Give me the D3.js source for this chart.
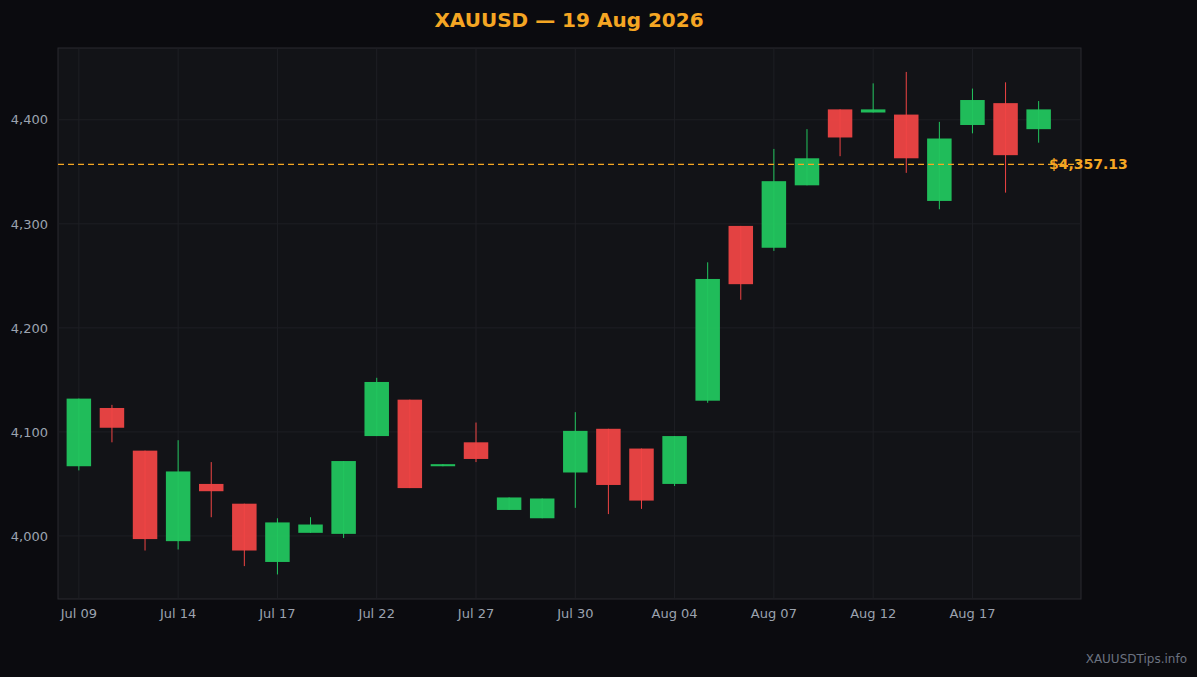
<!DOCTYPE html>
<head>
<meta charset="utf-8">
<title>XAUUSD</title>
<script src="https://cdn.jsdelivr.net/npm/d3@7"></script>
<style>
  body { margin: 0; background: #0b0b0f; }
  text { font-family: "DejaVu Sans", sans-serif; }
</style>
</head>
<body>
<script>
var width = 1197, height = 677;
var margin = {top: 48, right: 116, bottom: 78, left: 58};

// data
var dates = ["Jul 09","Jul 10","Jul 13","Jul 14","Jul 15","Jul 16","Jul 17","Jul 20","Jul 21","Jul 22",
  "Jul 23","Jul 24","Jul 27","Jul 28","Jul 29","Jul 30","Jul 31","Aug 03","Aug 04","Aug 05",
  "Aug 06","Aug 07","Aug 10","Aug 11","Aug 12","Aug 13","Aug 14","Aug 17","Aug 18","Aug 19"];
var opens  = [4067,4123,4082,3995,4050,4031,3975,4003,4002,4096,4131,4067,4090,4025,4017,4061,4103,4084,4050,4130,4298,4277,4337,4410,4407,4405,4322,4395,4416,4391];
var closes = [4132,4104,3997,4062,4043,3986,4013,4011,4072,4148,4046,4069,4074,4037,4036,4101,4049,4034,4096,4247,4242,4341,4363,4383,4410,4363,4382,4419,4366,4410];
var highs  = [4132,4126,4082,4092,4071,4031,4017,4018,4072,4152,4131,4069,4109,4037,4036,4119,4103,4084,4096,4263,4298,4372,4391,4410,4435,4446,4398,4430,4436,4418];
var lows   = [4063,4090,3986,3987,4018,3971,3963,4003,3998,4096,4046,4067,4071,4025,4017,4027,4021,4026,4048,4128,4227,4274,4337,4365,4407,4349,4314,4387,4330,4378];
var tickDates = ["Jul 09","Jul 14","Jul 17","Jul 22","Jul 27","Jul 30","Aug 04","Aug 07","Aug 12","Aug 17"];
var yTicks = [4000, 4100, 4200, 4300, 4400];
var lastPrice = 4357.13;

var data = dates.map(function(d, i) {
  return {date: d, o: opens[i], c: closes[i], h: highs[i], l: lows[i]};
});

var svg = d3.select("body").append("svg").attr("width", width).attr("height", height);
var pw = width - margin.left - margin.right, ph = height - margin.top - margin.bottom;

var x = d3.scaleBand().domain(dates).range([0, 1001.5]).padding(0.26);
var y = d3.scaleLinear().domain([3939.4, 4469]).range([ph, 0]);

svg.append("text").attr("x", 569).attr("y", 27).attr("text-anchor", "middle")
  .style("fill", "#f5a623").style("font-size", "20px").style("font-weight", "bold")
  .text("XAUUSD \u2014 19 Aug 2026");

var g = svg.append("g").attr("transform", "translate(" + margin.left + "," + margin.top + ")");
g.append("rect").attr("width", pw).attr("height", ph).style("fill", "#121317").style("stroke", "#2a2b30");

// grid
g.selectAll(".gy").data(yTicks).enter().append("line")
  .attr("x1", 0).attr("x2", pw).attr("y1", function(d) { return y(d); }).attr("y2", function(d) { return y(d); })
  .style("stroke", "#1e1f24");
g.selectAll(".gx").data(tickDates).enter().append("line")
  .attr("y1", 0).attr("y2", ph)
  .attr("x1", function(d) { return x(d) + x.bandwidth() / 2; }).attr("x2", function(d) { return x(d) + x.bandwidth() / 2; })
  .style("stroke", "#1e1f24");

// candles
var col = function(d) { return d.c >= d.o ? "#22c55e" : "#ef4444"; };
var c = g.selectAll(".c").data(data).enter().append("g");
c.append("line")
  .attr("x1", function(d) { return x(d.date) + x.bandwidth() / 2; })
  .attr("x2", function(d) { return x(d.date) + x.bandwidth() / 2; })
  .attr("y1", function(d) { return y(d.h); }).attr("y2", function(d) { return y(d.l); })
  .style("stroke", col).style("stroke-width", 1);
c.append("rect")
  .attr("x", function(d) { return x(d.date); }).attr("width", x.bandwidth())
  .attr("y", function(d) { return y(Math.max(d.o, d.c)); })
  .attr("height", function(d) { return Math.max(2, Math.abs(y(d.o) - y(d.c))); })
  .style("fill", col).style("fill-opacity", 0.95);

// price line
g.append("line").attr("x1", 0).attr("x2", pw).attr("y1", y(lastPrice)).attr("y2", y(lastPrice))
  .style("stroke", "#f5a623").style("stroke-width", 1.3).style("stroke-dasharray", "6,4");
g.append("text").attr("x", 991).attr("y", y(lastPrice) + 5)
  .style("fill", "#f5a623").style("font-size", "14px").style("font-weight", "bold")
  .text("$" + d3.format(",.2f")(lastPrice));

// axes
var yAxis = g.append("g").call(d3.axisLeft(y).tickValues(yTicks).tickSize(0).tickPadding(10));
var xAxis = g.append("g").attr("transform", "translate(0," + ph + ")")
  .call(d3.axisBottom(x).tickValues(tickDates).tickSize(0).tickPadding(10));
[yAxis, xAxis].forEach(function(a) {
  a.select(".domain").remove();
  a.selectAll("text").style("fill", "#9ca3af").style("font-size", "13px").style("font-family", "DejaVu Sans, sans-serif");
});

svg.append("text").attr("x", 1187).attr("y", 663).attr("text-anchor", "end")
  .style("fill", "#6b7280").style("font-size", "12px").text("XAUUSDTips.info");
</script>
</body>
